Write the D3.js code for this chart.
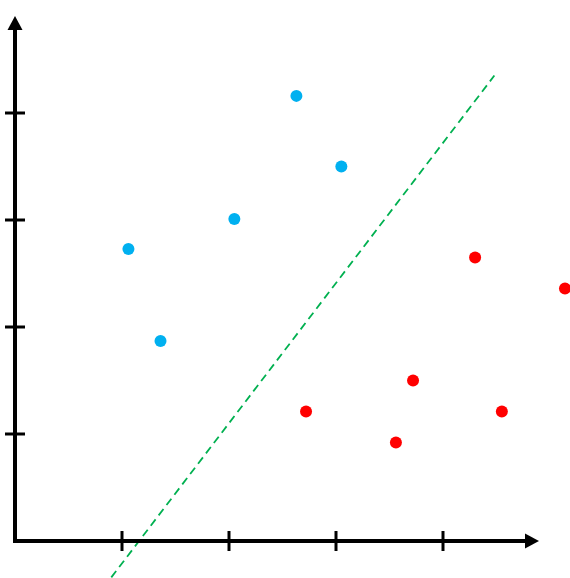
<!DOCTYPE html>
<html><head><meta charset="utf-8">
<script src="https://cdn.jsdelivr.net/npm/d3@7"></script>
<style>html,body{margin:0;padding:0;background:#fff;}</style>
</head><body>
<svg id="c" width="570" height="578"></svg>
<script>
const xTicks = [1, 2, 3, 4];
const yTicks = [1, 2, 3, 4];
const blueX = [1.06, 1.36, 2.05, 2.63, 3.05];
const blueY = [2.73, 1.87, 3.01, 4.16, 3.50];
const redX = [2.72, 3.56, 3.72, 4.30, 4.55, 5.14];
const redY = [1.21, 0.92, 1.50, 2.65, 1.21, 2.36];
const lineX = [0.90, 4.48];
const lineY = [-0.34, 4.35];

const svg = d3.select("#c");
const x = d3.scaleLinear().domain([0, 1]).range([15, 122]);
const y = d3.scaleLinear().domain([0, 1]).range([541, 434]);

// dashed separator
svg.append("line")
  .attr("x1", x(lineX[0])).attr("y1", y(lineY[0]))
  .attr("x2", x(lineX[1])).attr("y2", y(lineY[1]))
  .attr("stroke", "#00b050").attr("stroke-width", 1.8)
  .attr("stroke-dasharray", "8,5");

// axes
const ax = svg.append("g");
ax.append("line").attr("x1", x(0)).attr("y1", y(0)).attr("x2", 527).attr("y2", y(0))
  .attr("stroke", "#000").attr("stroke-width", 4);
ax.append("line").attr("x1", x(0)).attr("y1", y(0)+2).attr("x2", x(0)).attr("y2", 28)
  .attr("stroke", "#000").attr("stroke-width", 4);
ax.append("path").attr("d", `M539,${y(0)} L525,${y(0)-7.5} L525,${y(0)+7.5} Z`).attr("fill", "#000");
ax.append("path").attr("d", `M${x(0)},16 L${x(0)-7.5},30 L${x(0)+7.5},30 Z`).attr("fill", "#000");

ax.selectAll(".xt").data(xTicks).enter().append("line")
  .attr("x1", d => x(d)).attr("x2", d => x(d))
  .attr("y1", y(0) - 10).attr("y2", y(0) + 10)
  .attr("stroke", "#000").attr("stroke-width", 3);
ax.selectAll(".yt").data(yTicks).enter().append("line")
  .attr("y1", d => y(d)).attr("y2", d => y(d))
  .attr("x1", x(0) - 10).attr("x2", x(0) + 10)
  .attr("stroke", "#000").attr("stroke-width", 3);

// points
svg.selectAll(".b").data(blueX).enter().append("circle")
  .attr("cx", d => x(d)).attr("cy", (d, i) => y(blueY[i])).attr("r", 6)
  .attr("fill", "#00b0f0");
svg.selectAll(".r").data(redX).enter().append("circle")
  .attr("cx", d => x(d)).attr("cy", (d, i) => y(redY[i])).attr("r", 6)
  .attr("fill", "#ff0000");
</script>
</body></html>
